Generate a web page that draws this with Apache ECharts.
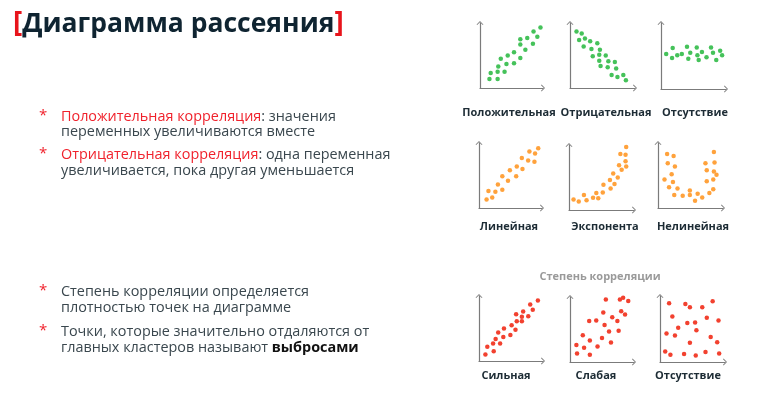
<!DOCTYPE html>
<html><head><meta charset="utf-8">
<script src="https://cdn.jsdelivr.net/npm/echarts@6/dist/echarts.min.js"></script>
<style>html,body{margin:0;padding:0;background:#fff}#c{width:759px;height:410px}</style>
</head><body><div id="c"></div>
<script>
// ---- data (axis units 0..100 in each mini panel) ----
const positive = [[96,93],[85,87],[91,79],[75,77],[64,75],[64,67],[84,68],[72,59],[54,55],[44,50],[33,45],[64,46],[54,38],[42,37],[29,33],[17,23],[28,25],[39,25],[15,14],[28,14]];
const negative = [[10,87],[18,84],[14,74],[23,76],[31,72],[42,69],[21,64],[33,60],[46,59],[35,49],[45,51],[55,50],[45,42],[59,41],[69,40],[47,34],[58,32],[71,30],[64,20],[73,17],[82,20],[86,12]];
const noneGreen = [[8,53],[18,62],[17,47],[25,51],[32,53],[40,64],[45,55],[42,46],[55,63],[56,51],[58,44],[63,56],[70,48],[77,63],[80,55],[85,44],[91,58],[94,51]];
const linear = [[94,92],[80,87],[89,84],[68,77],[78,73],[88,71],[60,64],[69,60],[49,58],[37,49],[59,49],[46,42],[30,36],[15,26],[26,25],[37,28],[12,13],[21,16]];
const exponent = [[88,97],[79,86],[87,85],[87,75],[77,69],[88,67],[81,62],[68,56],[75,50],[63,46],[53,39],[70,40],[64,33],[52,27],[42,26],[37,19],[45,18],[23,23],[7,16],[15,13],[27,15]];
const nonlinear = [[14,83],[24,80],[15,69],[26,64],[21,52],[10,44],[23,40],[17,32],[30,30],[25,20],[38,19],[49,27],[49,20],[57,11],[61,22],[68,16],[79,23],[85,29],[75,41],[85,44],[90,51],[86,56],[75,58],[73,69],[87,70],[86,86]];
const strong = [[92,93],[80,87],[84,79],[69,76],[58,72],[67,68],[77,69],[51,55],[59,61],[67,61],[57,48],[49,40],[39,50],[30,44],[38,37],[26,34],[22,27],[33,27],[13,22],[23,15],[10,10]];
const weak = [[56,96],[78,96],[83,99],[91,94],[80,78],[86,73],[52,76],[66,69],[74,63],[30,63],[41,64],[54,57],[61,47],[76,48],[20,41],[50,37],[31,33],[43,24],[64,30],[10,26],[22,22],[11,13],[31,11]];
const noneRed = [[14,89],[39,88],[46,83],[65,83],[81,92],[19,69],[42,59],[54,60],[72,67],[90,63],[28,52],[56,48],[10,43],[23,40],[78,38],[88,30],[46,29],[8,16],[16,11],[37,12],[55,10],[70,15],[91,13]];

const panelData = [positive, negative, noneGreen, linear, exponent, nonlinear, strong, weak, noneRed];
const panelLabels = ['Положительная','Отрицательная','Отсутствие','Линейная','Экспонента','Нелинейная','Сильная','Слабая','Отсутствие'];
const titleText = 'Диаграмма рассеяния';
const degreeText = 'Степень корреляции';
const bulletsTop = [
  ['{r|Положительная корреляция}: значения','переменных увеличиваются вместе'],
  ['{r|Отрицательная корреляция}: одна переменная','увеличивается, пока другая уменьшается']
];
const bulletsBottom = [
  ['Степень корреляции определяется','плотностью точек на диаграмме'],
  ['Точки, которые значительно отдаляются от','главных кластеров называют {b|выбросами}']
];

// ---- layout ----
const boxes = [
  [480,23,63,65],[570,23,65,65],[661,23,65,66],
  [479,143,63,65],[569,145,65,65],[658,143,65,65],
  [479,296,64,65],[570,297,64,65],[660,296,65,66]
];
const colors = ['#45c25a','#45c25a','#45c25a','#ffa23c','#ffa23c','#ffa23c','#f2412f','#f2412f','#f2412f'];
const labelPos = [[509,113],[606,113],[695,113],[509,227],[605,227],[693,227],[506,376],[596,376],[688,376]];

const arrow = 'path://M0,0 L6,6 L5,7 L0,2 L-5,7 L-6,6 Z';
const axisBase = {
  type:'value', min:0, max:100, splitLine:{show:false}, axisTick:{show:false}, axisLabel:{show:false},
  axisLine:{show:true, onZero:false, symbol:['none',arrow], symbolSize:[7,4], lineStyle:{color:'#7b7b7b', width:1.2}}
};
const grid=[], xAxis=[], yAxis=[], series=[];
panelData.forEach((d,i)=>{
  const b=boxes[i];
  grid.push({left:b[0], top:b[1], width:b[2], height:b[3]});
  xAxis.push(Object.assign({gridIndex:i}, axisBase));
  yAxis.push(Object.assign({gridIndex:i}, axisBase));
  series.push({type:'scatter', xAxisIndex:i, yAxisIndex:i, data:d, symbolSize:4.5, itemStyle:{color:colors[i], opacity:1}, silent:true, animation:false});
});

const dark='#1d2c35', text='#3a474e', red='#f0222c';
const graphic=[];
graphic.push({type:'text', left:13, top:10, style:{text:'{r|[}{t|'+titleText+'}{r|]}', rich:{
  r:{fill:'#e8141b', fontSize:28, fontWeight:'bold', fontFamily:'Open Sans'},
  t:{fill:'#0f2431', fontSize:26.5, fontWeight:'bold', fontFamily:'Open Sans'}}}});
function bullets(list, ys){
  list.forEach((lines,k)=>{
    graphic.push({type:'text', x:39, y:ys[k*2]-9, style:{text:'*', fill:red, fontSize:15, fontFamily:'Open Sans'}});
    lines.forEach((ln,j)=>{
      graphic.push({type:'text', x:61, y:ys[k*2+j], style:{text:ln, fill:text, fontSize:14.4, fontFamily:'Open Sans', verticalAlign:'middle',
        rich:{r:{fill:red, fontSize:14.4, fontFamily:'Open Sans'}, b:{fill:'#111', fontSize:14.4, fontWeight:'bold', fontFamily:'Open Sans'}}}});
    });
  });
}
bullets(bulletsTop,[117,132,155,171]);
bullets(bulletsBottom,[292,308,332,348]);
panelLabels.forEach((t,i)=>{
  graphic.push({type:'text', x:labelPos[i][0], y:labelPos[i][1], style:{text:t, fill:dark, fontSize:11, fontWeight:'bold', fontFamily:'Open Sans', align:'center', verticalAlign:'middle'}});
});
graphic.push({type:'text', x:600, y:277, style:{text:degreeText, fill:'#9a9a9a', fontSize:11, fontWeight:'bold', fontFamily:'Open Sans', align:'center', verticalAlign:'middle'}});

const chart = echarts.init(document.getElementById('c'), null, {renderer:'canvas'});
chart.setOption({backgroundColor:'#fff', animation:false, grid, xAxis, yAxis, series, graphic});
</script></body></html>
